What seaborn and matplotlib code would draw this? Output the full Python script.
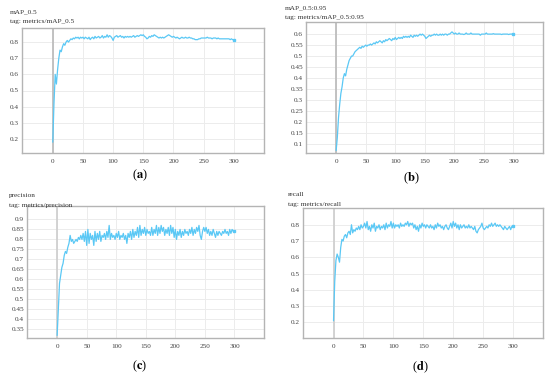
import numpy as np
import pandas as pd
import matplotlib
matplotlib.use("Agg")
import matplotlib.pyplot as plt
import seaborn as sns

# epochs sampled every 2
epochs = list(range(0, 301, 2))

map50 = [0.18, 0.42, 0.60, 0.54, 0.63, 0.70, 0.75, 0.74, 0.77, 0.79, 0.78, 0.80, 0.81, 0.80, 0.81, 0.82,
         0.815, 0.825, 0.82, 0.83, 0.825, 0.83, 0.82, 0.83, 0.825, 0.83, 0.82, 0.83, 0.825, 0.82, 0.83, 0.815,
         0.825, 0.83, 0.82, 0.835, 0.825, 0.83, 0.835, 0.825, 0.83, 0.84, 0.825, 0.835, 0.83, 0.845, 0.83, 0.84,
         0.835, 0.825, 0.81, 0.83, 0.835, 0.84, 0.83, 0.835, 0.84, 0.83, 0.835, 0.825, 0.835, 0.83, 0.835, 0.83,
         0.835, 0.83, 0.835, 0.84, 0.83, 0.835, 0.84, 0.835, 0.84, 0.845, 0.84, 0.845, 0.835, 0.83, 0.82, 0.825,
         0.835, 0.83, 0.84, 0.835, 0.845, 0.84, 0.835, 0.83, 0.825, 0.83, 0.825, 0.83, 0.825, 0.83, 0.835, 0.84,
         0.845, 0.84, 0.835, 0.83, 0.835, 0.83, 0.825, 0.83, 0.825, 0.82, 0.825, 0.83, 0.825, 0.825, 0.83, 0.825,
         0.825, 0.83, 0.825, 0.825, 0.82, 0.82, 0.815, 0.815, 0.815, 0.82, 0.82, 0.825, 0.825, 0.825, 0.825, 0.825,
         0.83, 0.825, 0.825, 0.825, 0.82, 0.825, 0.825, 0.825, 0.82, 0.825, 0.82, 0.82, 0.82, 0.82, 0.82, 0.82,
         0.82, 0.82, 0.82, 0.815, 0.82, 0.815, 0.815]

map50_95 = [0.07, 0.13, 0.22, 0.28, 0.33, 0.36, 0.40, 0.42, 0.41, 0.44, 0.46, 0.48, 0.49, 0.50, 0.50, 0.51,
            0.52, 0.525, 0.53, 0.535, 0.54, 0.535, 0.545, 0.54, 0.545, 0.55, 0.545, 0.55, 0.55, 0.555, 0.55, 0.555,
            0.56, 0.555, 0.565, 0.56, 0.565, 0.57, 0.565, 0.56, 0.57, 0.565, 0.575, 0.57, 0.575, 0.58, 0.575, 0.57,
            0.58, 0.575, 0.585, 0.575, 0.58, 0.585, 0.58, 0.585, 0.58, 0.59, 0.585, 0.59, 0.585, 0.59, 0.585, 0.595,
            0.59, 0.585, 0.595, 0.59, 0.595, 0.59, 0.595, 0.60, 0.595, 0.60, 0.595, 0.59, 0.58, 0.585, 0.59, 0.595,
            0.59, 0.595, 0.595, 0.60, 0.595, 0.60, 0.595, 0.595, 0.60, 0.595, 0.60, 0.595, 0.60, 0.60, 0.595, 0.60,
            0.60, 0.605, 0.61, 0.605, 0.60, 0.605, 0.60, 0.60, 0.605, 0.60, 0.60, 0.60, 0.598, 0.60, 0.605, 0.60,
            0.60, 0.60, 0.605, 0.60, 0.60, 0.60, 0.60, 0.60, 0.60, 0.60, 0.595, 0.60, 0.60, 0.60, 0.60, 0.605,
            0.60, 0.60, 0.60, 0.60, 0.60, 0.602, 0.60, 0.60, 0.60, 0.60, 0.60, 0.60, 0.598, 0.60, 0.60, 0.60,
            0.60, 0.60, 0.598, 0.60, 0.60, 0.60, 0.60]

precision = [0.32, 0.45, 0.58, 0.62, 0.66, 0.68, 0.72, 0.74, 0.73, 0.76, 0.78, 0.82, 0.79, 0.80, 0.78, 0.79,
             0.80, 0.79, 0.81, 0.80, 0.82, 0.80, 0.83, 0.79, 0.84, 0.77, 0.85, 0.78, 0.83, 0.80, 0.82, 0.77,
             0.84, 0.79, 0.83, 0.80, 0.84, 0.79, 0.82, 0.81, 0.83, 0.80, 0.84, 0.81, 0.87, 0.80, 0.83, 0.81,
             0.82, 0.80, 0.83, 0.81, 0.84, 0.80, 0.82, 0.81, 0.83, 0.80, 0.82, 0.78, 0.83, 0.81, 0.84, 0.80,
             0.85, 0.81, 0.84, 0.82, 0.86, 0.81, 0.87, 0.82, 0.85, 0.83, 0.86, 0.82, 0.85, 0.83, 0.84, 0.82,
             0.86, 0.82, 0.85, 0.83, 0.87, 0.82, 0.86, 0.83, 0.87, 0.84, 0.86, 0.82, 0.85, 0.83, 0.86, 0.82,
             0.87, 0.83, 0.86, 0.81, 0.85, 0.80, 0.84, 0.82, 0.85, 0.81, 0.84, 0.82, 0.85, 0.83, 0.84, 0.82,
             0.85, 0.83, 0.86, 0.82, 0.85, 0.83, 0.86, 0.84, 0.87, 0.82, 0.80, 0.84, 0.86, 0.84, 0.86, 0.83,
             0.85, 0.82, 0.84, 0.82, 0.85, 0.83, 0.81, 0.84, 0.82, 0.84, 0.83, 0.82, 0.84, 0.83, 0.85, 0.83,
             0.84, 0.82, 0.85, 0.83, 0.85, 0.84, 0.84]

recall = [0.21, 0.45, 0.58, 0.62, 0.60, 0.57, 0.66, 0.71, 0.70, 0.73, 0.74, 0.72, 0.75, 0.76, 0.74, 0.80,
          0.75, 0.77, 0.76, 0.78, 0.77, 0.79, 0.77, 0.80, 0.78, 0.79, 0.81, 0.78, 0.82, 0.77, 0.79, 0.76,
          0.80, 0.78, 0.81, 0.76, 0.79, 0.78, 0.80, 0.77, 0.79, 0.78, 0.80, 0.77, 0.81, 0.78, 0.80, 0.79,
          0.82, 0.78, 0.81, 0.78, 0.80, 0.79, 0.80, 0.78, 0.81, 0.79, 0.80, 0.79, 0.81, 0.80, 0.82, 0.79,
          0.81, 0.80, 0.81, 0.78, 0.80, 0.77, 0.79, 0.76, 0.80, 0.78, 0.81, 0.79, 0.80, 0.78, 0.80, 0.79,
          0.78, 0.80, 0.78, 0.79, 0.77, 0.80, 0.78, 0.81, 0.79, 0.80, 0.78, 0.79, 0.77, 0.79, 0.80, 0.78,
          0.77, 0.79, 0.81, 0.78, 0.82, 0.79, 0.81, 0.78, 0.80, 0.77, 0.80, 0.78, 0.79, 0.80, 0.78, 0.79,
          0.78, 0.80, 0.78, 0.79, 0.78, 0.77, 0.79, 0.76, 0.75, 0.77, 0.78, 0.79, 0.81, 0.78, 0.77, 0.78,
          0.79, 0.78, 0.80, 0.79, 0.81, 0.79, 0.80, 0.81, 0.79, 0.80, 0.79, 0.80, 0.79, 0.78, 0.77, 0.79,
          0.78, 0.77, 0.78, 0.79, 0.77, 0.79, 0.79]

titles = ["mAP_0.5", "mAP_0.5:0.95", "precision", "recall"]
tags = ["tag: metrics/mAP_0.5", "tag: metrics/mAP_0.5:0.95", "tag: metrics/precision", "tag: metrics/recall"]
letters = ["a", "b", "c", "d"]
xticks = [0, 50, 100, 150, 200, 250, 300]
yticks_a = [0.2, 0.3, 0.4, 0.5, 0.6, 0.7, 0.8]
yticks_b = [0.1, 0.15, 0.2, 0.25, 0.3, 0.35, 0.4, 0.45, 0.5, 0.55, 0.6]
yticks_c = [0.35, 0.4, 0.45, 0.5, 0.55, 0.6, 0.65, 0.7, 0.75, 0.8, 0.85, 0.9]
yticks_d = [0.2, 0.3, 0.4, 0.5, 0.6, 0.7, 0.8]

sns.set_theme(style="whitegrid")
plt.rcParams['font.family'] = ['Liberation Serif', 'DejaVu Serif']
plt.rcParams['mathtext.fontset'] = 'stix'

W, H = 550, 379
fig = plt.figure(figsize=(W / 100, H / 100), dpi=100)
fig.patch.set_facecolor("white")

# panel boxes in pixels: left, top, right, bottom
boxes = [(22, 28, 264, 153), (306, 22, 543, 153), (27, 206, 264, 338), (303, 208, 543, 338)]
ylims = [(0.113, 0.887), (0.059, 0.655), (0.307, 0.967), (0.104, 0.903)]
series = [map50, map50_95, precision, recall]
yticks = [yticks_a, yticks_b, yticks_c, yticks_d]
title_pos = [(10, 12, 21), (285, 8, 18), (9, 195, 205), (288, 194, 204)]
label_pos = [(140, 175), (411, 178), (140, 366), (420, 367)]
zero_colors = ["#bdbdbd", "#bdbdbd", "#d0d0d0", "#d0d0d0"]

line_color = "#5AC8F5"

for i in range(4):
    l, t, r, b = boxes[i]
    ax = fig.add_axes([l / W, 1 - b / H, (r - l) / W, (b - t) / H])
    ax.set_facecolor("white")
    df = pd.DataFrame({"epoch": epochs, "value": series[i]})
    sns.lineplot(data=df, x="epoch", y="value", ax=ax, color=line_color, linewidth=0.9)
    ax.plot(df["epoch"].iloc[-1], df["value"].iloc[-1], marker="s", ms=1.8, color=line_color)
    ax.axvline(0, color=zero_colors[i], lw=1.3, zorder=1)
    ax.set_xlim(-51, 350)
    ax.set_ylim(*ylims[i])
    ax.set_xticks(xticks)
    ax.set_yticks(yticks[i])
    ax.set_yticklabels([f"{v:g}" for v in yticks[i]])
    ax.set_xlabel("")
    ax.set_ylabel("")
    ax.grid(True, color="#ececec", lw=0.7)
    ax.tick_params(axis="both", length=0, labelsize=5.2, colors="#444444")
    ax.tick_params(axis="x", pad=4)
    ax.tick_params(axis="y", pad=2)
    for s in ax.spines.values():
        s.set_color("#b4b4b4")
        s.set_linewidth(1.0)
    tx, ty1, ty2 = title_pos[i]
    fig.text(tx / W, 1 - ty1 / H, titles[i], fontsize=5.2, color="#333333", va="center", ha="left")
    fig.text(tx / W, 1 - ty2 / H, tags[i], fontsize=5.2, color="#333333", va="center", ha="left")
    lx, ly = label_pos[i]
    fig.text(lx / W, 1 - ly / H, r"($\mathbf{" + letters[i] + r"}$)", fontsize=9,
             color="black", va="center", ha="center")

fig.savefig("out.png", dpi=100, facecolor="white")
